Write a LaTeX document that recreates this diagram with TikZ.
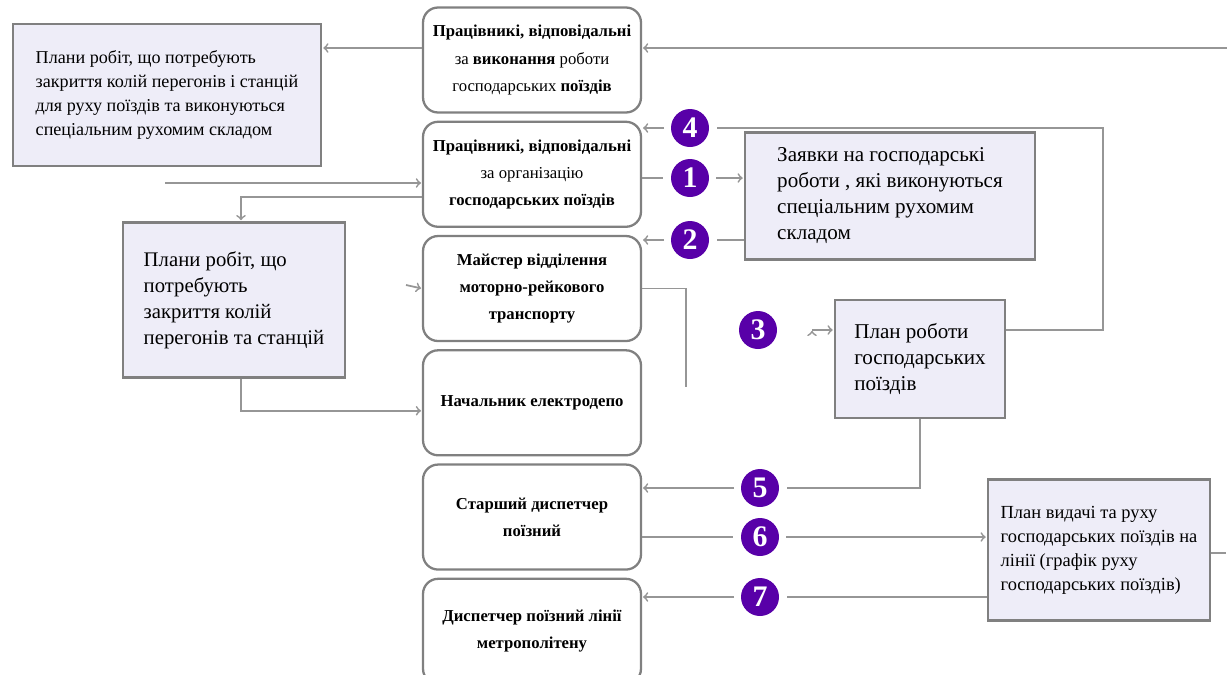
\documentclass[tikz,border=0pt]{standalone}
\usepackage{fontspec}
\setmainfont{Liberation Serif}
\usepackage{tikz}
\usetikzlibrary{positioning}
\definecolor{linegray}{RGB}{150,150,150}
\definecolor{boxgray}{RGB}{128,128,128}
\definecolor{boxfill}{RGB}{238,237,248}
\definecolor{numviolet}{RGB}{88,0,168}

\begin{document}
\begin{tikzpicture}[x=0.02cm,y=-0.02cm,shorten >=0.5pt,>=to,
		person/.style={draw=boxgray,line width=1.3pt,rounded corners=0.3cm,fill=white,minimum width=4.36cm,minimum height=2.1cm,inner sep=0.05cm,align=center,font=\fontsize{9.5}{15.5}\selectfont},
		doc/.style={draw=boxgray,line width=1.6pt,fill=boxfill,inner sep=0.05cm,align=left},
		num/.style={circle,fill=numviolet,text=white,minimum size=0.76cm,inner sep=0pt,outer sep=0.14cm,font=\fontsize{17}{17}\selectfont\bfseries},
		flow/.style={draw=linegray,line width=1pt}]
		\useasboundingbox (0,0) rectangle (1227,674);

		% column of people
		\node[person] (Executors) at (532,60) {\textbf{Працівникі, відповідальні}\\за \textbf{виконання} роботи\\господарських \textbf{поїздів}};
		\node[person] (Organizers) [below=0.14cm of Executors] {\textbf{Працівникі, відповідальні}\\за організацію\\\textbf{господарських поїздів}};
		\node[person] (Master) [below=0.14cm of Organizers] {\bfseries Майстер відділення\\\bfseries моторно-рейкового\\\bfseries транспорту};
		\node[person] (DepotHead) [below=0.14cm of Master] {\textbf{Начальник електродепо}};
		\node[person] (SeniorDispatcher) [below=0.14cm of DepotHead] {\bfseries Старший диспетчер\\\bfseries поїзний};
		\node[person] (LineDispatcher) [below=0.14cm of SeniorDispatcher] {\bfseries Диспетчер поїзний лінії\\\bfseries метрополітену};

		% documents
		\node[doc,minimum width=6.16cm,minimum height=2.84cm,font=\fontsize{10.3}{13.6}\selectfont] (ClosurePlans) at (167,95) {Плани робіт, що потребують\\закриття колій перегонів і станцій\\для руху поїздів та виконуються\\спеціальним рухомим складом};
		\node[doc,minimum width=5.8cm,minimum height=2.54cm,font=\fontsize{12}{14.8}\selectfont] (Requests) at (890,196) {Заявки на господарські\\роботи , які виконуються\\спеціальним рухомим\\складом};
		\node[doc,minimum width=4.44cm,minimum height=3.1cm,font=\fontsize{11.8}{14.8}\selectfont] (ClosureWork) at (234,300) {Плани робіт, що\\потребують\\закриття колій\\перегонів та станцій};
		\node[doc,minimum width=3.4cm,minimum height=2.36cm,font=\fontsize{12}{14.8}\selectfont] (WorkPlan) at (920,359) {План роботи\\господарських\\поїздів};
		\node[doc,minimum width=4.44cm,minimum height=2.82cm,font=\fontsize{10.5}{13.6}\selectfont] (TrainSchedule) at (1099,550) {План видачі та руху\\господарських поїздів на\\лінії (графік руху\\господарських поїздів)};

		% numbers
		\node[num] (Four) at (690,128) {4};
		\node[num] (One) at (690,178) {1};
		\node[num] (Two) at (690,240) {2};
		\node[num] (Three) at (758,330) {3};
		\node[num] (Five) at (760,488) {5};
		\node[num] (Six) at (760,537) {6};
		\node[num] (Seven) at (760,597) {7};

		% free ends
		\coordinate (InTop) at (1227,48);
		\coordinate (InLeft) at (165,183);
		\coordinate (Split) at (241,197);
		\coordinate (MasterIn) at (406,285);
		\coordinate (MasterEnd) at (686,388);
		\coordinate (Stub) at (812,330);
		\coordinate (Corner) at (1103,128);
		\coordinate (OutRight) at (1227,553);

		\path[flow,->]
		(InTop) edge (Executors.east |- InTop)
		(Executors.west |- InTop) edge (ClosurePlans.east |- InTop)
		(InLeft) edge (Organizers.west |- InLeft)
		(One) edge (Requests.west |- One)
		(Two) edge (Master.east |- Two)
		(Four) edge (Organizers.east |- Four)
		(MasterIn) edge (Master.west)
		(Stub) edge (WorkPlan.west |- Stub)
		(Five) edge (SeniorDispatcher.east |- Five)
		(Six) edge (TrainSchedule.west |- Six)
		(Seven) edge (LineDispatcher.east |- Seven);

		\path[flow]
		(Organizers.east |- One) edge (One)
		(Requests.west |- Two) edge (Two)
		(SeniorDispatcher.east |- Six) edge (Six)
		(TrainSchedule.west |- Seven) edge (Seven)
		(TrainSchedule.east |- OutRight) edge (OutRight);

		\draw[flow] (WorkPlan.east |- Three) -| (Corner) -- (Four);
		\draw[flow] (WorkPlan.south) |- (Five);
		\draw[flow] (Master.east) -| (MasterEnd);
		\draw[flow,->] (Organizers.west |- Split) -| (ClosureWork.north -| Split);
		\draw[flow,->] (ClosureWork.south -| Split) |- ([yshift=-0.16cm]DepotHead.west);
\end{tikzpicture}
\end{document}
